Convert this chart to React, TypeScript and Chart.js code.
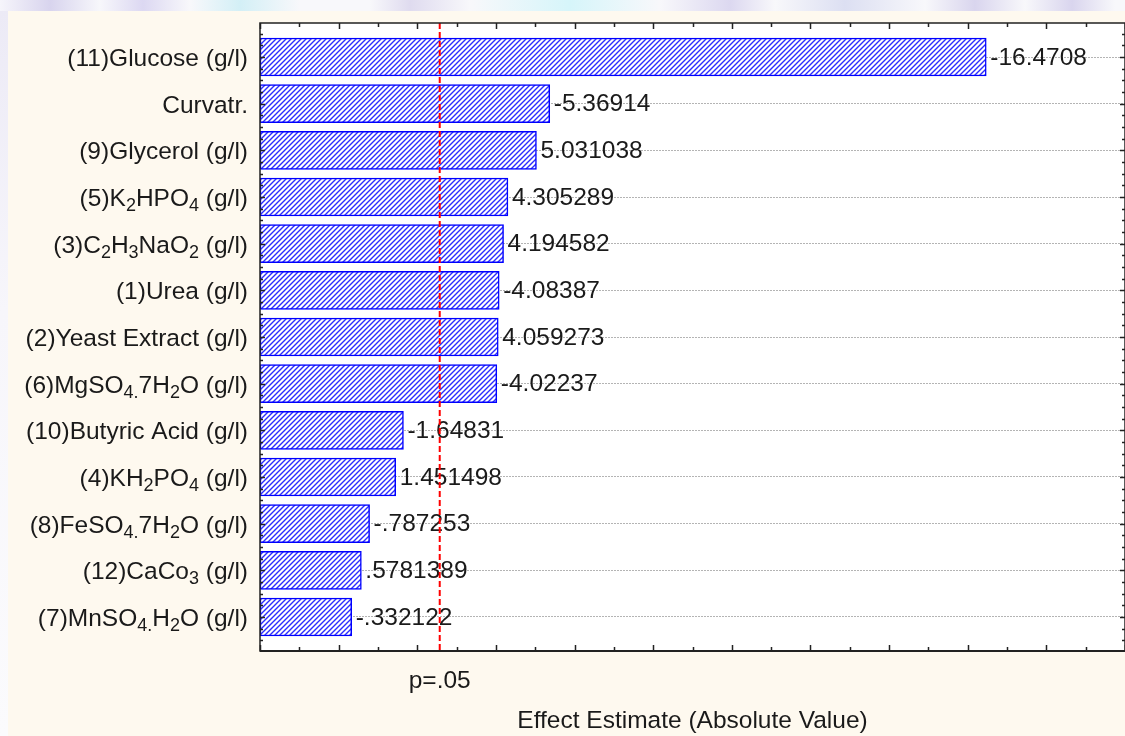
import React, { useEffect, useRef } from 'react';
import { Chart, registerables } from 'chart.js';

Chart.register(...registerables);

// "_{..}" marks a subscript run
const factorLabels: string[] = [
  '(11)Glucose (g/l)',
  'Curvatr.',
  '(9)Glycerol (g/l)',
  '(5)K_{2}HPO_{4} (g/l)',
  '(3)C_{2}H_{3}NaO_{2} (g/l)',
  '(1)Urea (g/l)',
  '(2)Yeast Extract (g/l)',
  '(6)MgSO_{4.}7H_{2}O (g/l)',
  '(10)Butyric Acid (g/l)',
  '(4)KH_{2}PO_{4} (g/l)',
  '(8)FeSO_{4.}7H_{2}O (g/l)',
  '(12)CaCo_{3} (g/l)',
  '(7)MnSO_{4.}H_{2}O (g/l)',
];

const effectValues: number[] = [
  -16.4708, -5.36914, 5.031038, 4.305289, 4.194582, -4.08387, 4.059273,
  -4.02237, -1.64831, 1.451498, -0.787253, 0.5781389, -0.332122,
];

const axisMin = -2;
const axisMax = 20;
const pCritical = 2.571;
const pLabel = 'p=.05';
const xTitle = 'Effect Estimate (Absolute Value)';

const FONT = "'Liberation Sans', Arial, Helvetica, sans-serif";
const TEXT = '#1a1a1a';
const MAIN_FONT = `24.5px ${FONT}`;
const SUB_FONT = `18px ${FONT}`;

const fmt = (v: number) => String(v).replace(/^(-?)0\./, '$1.');

type Seg = { t: string; sub: boolean };
function parseRich(s: string): Seg[] {
  const out: Seg[] = [];
  const re = /_\{([^}]*)\}/g;
  let last = 0;
  let m: RegExpExecArray | null;
  while ((m = re.exec(s))) {
    if (m.index > last) out.push({ t: s.slice(last, m.index), sub: false });
    out.push({ t: m[1], sub: true });
    last = m.index + m[0].length;
  }
  if (last < s.length) out.push({ t: s.slice(last), sub: false });
  return out;
}
const plainLabel = (s: string) => s.replace(/_\{([^}]*)\}/g, '$1');

function makeHatch(): CanvasPattern | string {
  const c = document.createElement('canvas');
  const s = 5;
  c.width = s;
  c.height = s;
  const g = c.getContext('2d');
  if (!g) return '#8888ff';
  g.fillStyle = '#ffffff';
  g.fillRect(0, 0, s, s);
  g.strokeStyle = '#2b2bff';
  g.lineWidth = 1.4;
  g.beginPath();
  g.moveTo(0, s);
  g.lineTo(s, 0);
  g.moveTo(-1, 1);
  g.lineTo(1, -1);
  g.moveTo(s - 1, s + 1);
  g.lineTo(s + 1, s - 1);
  g.stroke();
  const p = g.createPattern(c, 'repeat');
  return p || '#8888ff';
}

const paretoPlugin = {
  id: 'paretoDecor',
  beforeDraw(chart: any) {
    const { ctx, chartArea: a } = chart;
    ctx.save();
    ctx.fillStyle = '#ffffff';
    ctx.fillRect(a.left, a.top, a.right - a.left, a.bottom - a.top);
    ctx.restore();
  },
  afterDraw(chart: any) {
    // category labels with real subscripts, placed by the y scale
    const { ctx, chartArea: a, scales } = chart;
    const ys = scales.y;
    ctx.save();
    ctx.fillStyle = TEXT;
    ctx.textAlign = 'left';
    ctx.textBaseline = 'alphabetic';
    ys.ticks.forEach((tk: any) => {
      const raw = factorLabels[Math.round(tk.value) - 1];
      if (!raw) return;
      const segs = parseRich(raw);
      let w = 0;
      segs.forEach((sg) => {
        ctx.font = sg.sub ? SUB_FONT : MAIN_FONT;
        w += ctx.measureText(sg.t).width;
      });
      let x = a.left - 12 - w;
      const base = ys.getPixelForValue(tk.value) + 9;
      segs.forEach((sg) => {
        ctx.font = sg.sub ? SUB_FONT : MAIN_FONT;
        ctx.fillText(sg.t, x, sg.sub ? base + 5 : base);
        x += ctx.measureText(sg.t).width;
      });
    });
    ctx.restore();
  },
  afterDatasetsDraw(chart: any) {
    const { ctx, chartArea: a, scales } = chart;
    const xs = scales.x;
    const ys = scales.y;
    ctx.save();

    // value labels
    const meta = chart.getDatasetMeta(0);
    ctx.font = MAIN_FONT;
    ctx.fillStyle = TEXT;
    ctx.textAlign = 'left';
    ctx.textBaseline = 'middle';
    meta.data.forEach((bar: any, i: number) => {
      ctx.fillText(fmt(effectValues[i]), bar.x + 4, bar.y + 1);
    });

    // p = .05 line
    const px = xs.getPixelForValue(pCritical);
    ctx.strokeStyle = '#ff0000';
    ctx.lineWidth = 2;
    ctx.setLineDash([6, 3]);
    ctx.beginPath();
    ctx.moveTo(px, a.top);
    ctx.lineTo(px, a.bottom);
    ctx.stroke();
    ctx.setLineDash([]);

    ctx.fillStyle = TEXT;
    ctx.textAlign = 'center';
    ctx.fillText(pLabel, px, a.bottom + 30);

    // frame
    ctx.strokeStyle = '#222222';
    ctx.lineWidth = 1.5;
    ctx.strokeRect(a.left, a.top, a.right - a.left, a.bottom - a.top);
    ctx.lineWidth = 2;
    ctx.beginPath();
    ctx.moveTo(a.left, a.bottom);
    ctx.lineTo(a.right, a.bottom);
    ctx.stroke();

    // inward ticks on x (top and bottom)
    ctx.lineWidth = 1.5;
    ctx.beginPath();
    for (let v = axisMin; v <= axisMax; v += 1) {
      const x = Math.round(xs.getPixelForValue(v)) + 0.5;
      const len = v % 2 === 0 ? 6 : 4;
      ctx.moveTo(x, a.bottom);
      ctx.lineTo(x, a.bottom - len);
      ctx.moveTo(x, a.top);
      ctx.lineTo(x, a.top + len);
    }
    // inward ticks on y (left and right)
    for (let q = Math.ceil(ys.min * 4); q <= Math.floor(ys.max * 4); q += 1) {
      const v = q / 4;
      const y = Math.round(ys.getPixelForValue(v)) + 0.5;
      const len = q % 4 === 0 ? 5 : 3;
      ctx.moveTo(a.left, y);
      ctx.lineTo(a.left + len, y);
      ctx.moveTo(a.right, y);
      ctx.lineTo(a.right - len, y);
    }
    ctx.stroke();
    ctx.restore();
  },
};

export default function App() {
  const ref = useRef<HTMLCanvasElement | null>(null);

  useEffect(() => {
    if (!ref.current) return;
    const chart = new Chart(ref.current, {
      type: 'bar',
      data: {
        labels: factorLabels.map(plainLabel),
        datasets: [
          {
            data: effectValues.map((v, i) => ({ x: Math.abs(v), y: i + 1 })),
            base: axisMin,
            backgroundColor: makeHatch() as any,
            borderColor: '#0000ff',
            borderWidth: 1.5,
            borderSkipped: false,
            barThickness: 38,
          } as any,
        ],
      },
      options: {
        indexAxis: 'y',
        animation: false,
        responsive: false,
        maintainAspectRatio: false,
        layout: { padding: { top: 23, right: -2, left: 0, bottom: 0 } },
        plugins: { legend: { display: false }, tooltip: { enabled: false } },
        scales: {
          x: {
            type: 'linear',
            position: 'bottom',
            min: axisMin,
            max: axisMax,
            offset: false,
            grid: { display: false },
            border: { display: false },
            ticks: { display: false },
            title: {
              display: true,
              text: xTitle,
              color: TEXT,
              font: { family: FONT, size: 24.5 },
              padding: { top: 0, bottom: 0 },
            },
            afterFit: (s: any) => {
              s.height = 85;
            },
          },
          y: {
            type: 'linear',
            min: 0.271,
            max: 13.729,
            reverse: true,
            offset: false,
            afterBuildTicks: (s: any) => {
              s.ticks = factorLabels.map((_, i) => ({ value: i + 1 }));
            },
            ticks: {
              display: false,
              callback: (v: any) => plainLabel(factorLabels[Math.round(Number(v)) - 1] ?? ''),
              autoSkip: false,
            },
            grid: { color: '#b4b4b4', lineWidth: 1, drawTicks: false, offset: false },
            border: { display: false, dash: [2, 1] },
            afterFit: (s: any) => {
              s.width = 260;
            },
          },
        },
      } as any,
      plugins: [paretoPlugin],
    });
    return () => chart.destroy();
  }, []);

  const topStrip =
    'linear-gradient(90deg, #f6f5fb 0px, #d8d4ee 50px, #f7f7fb 100px, #dcd8f2 143px, #f8f8fb 190px, #d3eff6 240px, #f8f8fb 300px, #f8f8fb 370px, #dfdbef 410px, #f8f8fb 470px, #d6f5fa 570px, #f8f8fb 660px, #dcd8f0 730px, #f8f8fb 775px, #dcdff2 845px, #f8f8fb 925px, #d9d5ee 975px, #f8f8fb 1025px, #d9d5ee 1072px, #f8f8fb 1115px)';

  return (
    <div
      style={{
        position: 'fixed',
        left: 0,
        top: 0,
        width: 1125,
        height: 736,
        overflow: 'hidden',
        background: '#f6f5fa',
      }}
    >
      <div style={{ position: 'absolute', left: 0, top: 0, width: 1125, height: 11, background: topStrip }} />
      <div
        style={{
          position: 'absolute',
          left: 0,
          top: 11,
          width: 8,
          height: 725,
          background: 'linear-gradient(180deg, #eceaf6 0px, #f7f6fb 300px, #fbfbfd 725px)',
        }}
      />
      <div style={{ position: 'absolute', left: 8, top: 11, right: 0, bottom: 0, background: '#fef9ef' }} />
      <canvas ref={ref} width={1125} height={736} style={{ position: 'absolute', left: 0, top: 0, display: 'block' }} />
    </div>
  );
}
